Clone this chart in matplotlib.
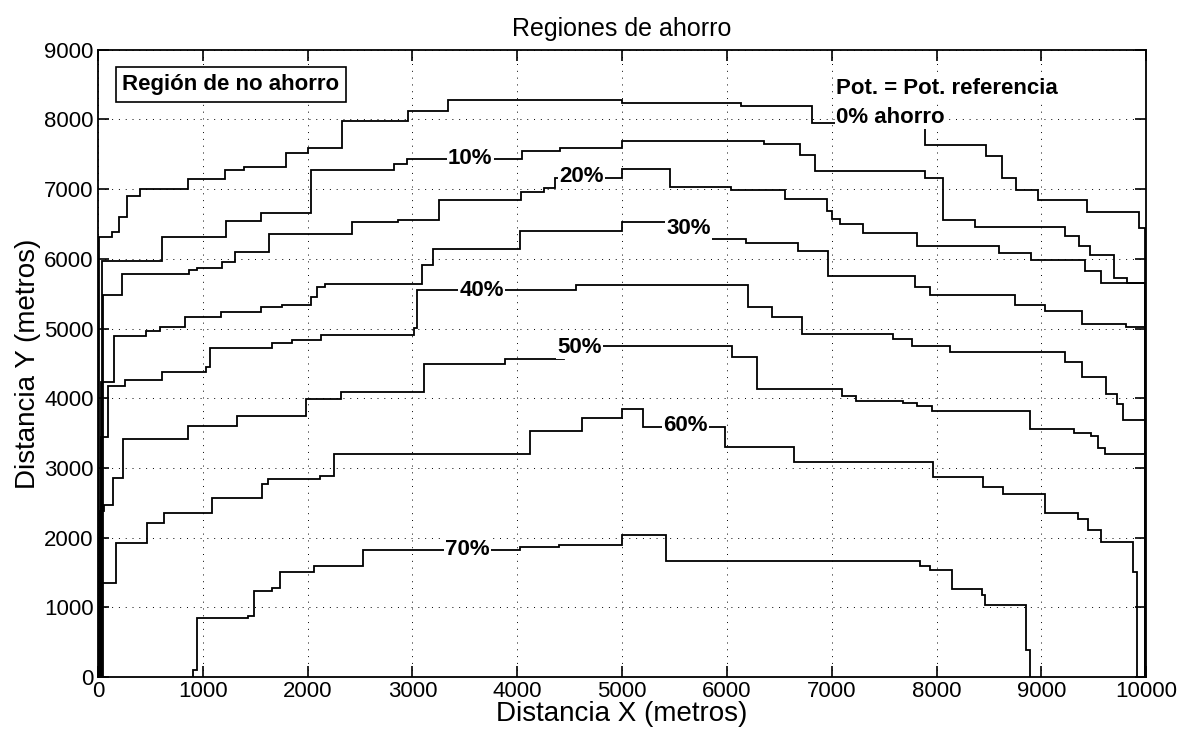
import numpy as np
from matplotlib import pyplot as plt
from matplotlib import rc

rc('font', family='Liberation Sans')

# step boundaries of the saving regions (x edges in m, y level in m)
x0 = [15, 135, 198, 277, 403, 858, 1210, 1396, 1790, 2000, 2330, 2959, 3335,
      5000, 6135, 6810, 7890, 8470, 8620, 8760, 8970, 9435, 9935, 9990]
y0 = [6310, 6380, 6595, 6905, 7000, 7143, 7280, 7316, 7519, 7591, 7976, 8125,
      8280, 8230, 8195, 7952, 7640, 7480, 7160, 6990, 6840, 6670, 6440]

x10 = [40, 616, 1220, 1560, 2030, 2827, 2953, 4048, 4412, 5000, 6357, 6695,
       6841, 7889, 8063, 8368, 9226, 9355, 9468, 9694, 9820, 9985]
y10 = [5976, 6310, 6550, 6660, 7281, 7360, 7430, 7543, 7591, 7688, 7654, 7490,
       7262, 7167, 6560, 6460, 6325, 6182, 6062, 5730, 5650]

x20 = [45, 226, 868, 946, 1186, 1311, 1632, 2425, 2858, 3252, 4032, 4252, 4360,
       5000, 5460, 6040, 6555, 6952, 7000, 7079, 7302, 7815, 8600, 8903, 9419,
       9565, 9985]
y20 = [5476, 5790, 5846, 5875, 5962, 6105, 6359, 6522, 6560, 6850, 6966, 7024,
       7159, 7288, 7038, 6990, 6860, 6690, 6571, 6500, 6371, 6190, 6080, 5981,
       5823, 5656]

x30 = [30, 151, 463, 589, 826, 1174, 1553, 1758, 2030, 2090, 2169, 3090, 3200,
       4026, 5003, 5600, 6180, 6675, 6968, 7794, 7937, 8746, 9030, 9391, 9803,
       9985]
y30 = [4230, 4899, 4971, 5019, 5163, 5244, 5316, 5345, 5452, 5596, 5640, 5909,
       6135, 6399, 6534, 6284, 6221, 6110, 5751, 5592, 5477, 5343, 5250, 5067,
       5029]

x40 = [25, 95, 263, 611, 1035, 1066, 1657, 1852, 2129, 3016, 3047, 4563, 6203,
       6428, 6714, 7587, 7768, 8127, 9227, 9391, 9612, 9720, 9776, 9985]
y40 = [3440, 4183, 4269, 4375, 4445, 4727, 4799, 4837, 4909, 5005, 5560, 5630,
       5308, 5173, 4926, 4849, 4753, 4667, 4514, 4308, 4058, 3913, 3683]

x50 = [20, 57, 142, 237, 864, 1323, 1987, 2320, 3111, 3881, 4450, 6051, 6289,
       7095, 7229, 7683, 7810, 7952, 8889, 9309, 9474, 9539, 9605, 9985]
y50 = [2380, 2476, 2861, 3413, 3596, 3750, 3995, 4085, 4493, 4563, 4755, 4596,
       4140, 4034, 3966, 3928, 3890, 3818, 3554, 3505, 3457, 3288, 3200]

x60 = [26, 168, 468, 627, 1085, 1566, 1623, 2114, 2256, 4119, 4617, 4997, 5203,
       5984, 6640, 7968, 8444, 8635, 9032, 9349, 9444, 9571, 9873, 9915]
y60 = [1346, 1923, 2212, 2356, 2572, 2764, 2837, 2885, 3195, 3524, 3716, 3846,
       3590, 3308, 3080, 2874, 2730, 2634, 2357, 2275, 2107, 1940, 1510]

x70 = [905, 950, 1427, 1491, 1661, 1734, 2060, 2525, 4023, 4400, 4997, 5415,
       7841, 7937, 8143, 8429, 8460, 8857, 8889]
y70 = [100, 842, 875, 1240, 1274, 1514, 1587, 1830, 1865, 1899, 2040, 1660,
       1600, 1542, 1269, 1173, 1029, 383]

# curve labels: text, x, y
lab_txt = ['10%', '20%', '30%', '40%', '50%', '60%', '70%']
lab_x = [3340, 4400, 5420, 3450, 4385, 5390, 3315]
lab_y = [7440, 7180, 6440, 5550, 4735, 3614, 1830]

fig = plt.figure(figsize=(11.94, 7.32), dpi=100)
ax = fig.add_axes([0.082, 0.075, 0.878, 0.857])

for xs, ys in [(x0, y0), (x10, y10), (x20, y20), (x30, y30), (x40, y40),
               (x50, y50), (x60, y60), (x70, y70)]:
    ax.stairs(ys, xs, baseline=0, color='k', lw=1.3)

box = dict(facecolor='white', edgecolor='none', pad=1)
for t, x, y in zip(lab_txt, lab_x, lab_y):
    ax.text(x, y, t, fontsize=16, fontweight='bold', ha='left', va='center',
            bbox=box, zorder=5)

ax.text(7040, 8440, 'Pot. = Pot. referencia', fontsize=16, fontweight='bold',
        ha='left', va='center', bbox=box, zorder=5)
ax.text(7040, 8030, '0% ahorro', fontsize=16, fontweight='bold',
        ha='left', va='center', bbox=box, zorder=5)
ax.text(1270, 8500, 'Región de no ahorro', fontsize=16, fontweight='bold',
        ha='center', va='center', zorder=5,
        bbox=dict(facecolor='white', edgecolor='k', lw=1.2, pad=5))

ax.set_xlim(0, 10000)
ax.set_ylim(0, 9000)
ax.set_xticks(np.arange(0, 10001, 1000))
ax.set_yticks(np.arange(0, 9001, 1000))
ax.grid(True, color='k', linestyle=(0, (1, 6)), lw=0.7)
ax.tick_params(direction='in', top=True, right=True, length=8, width=1.2,
               labelsize=16, pad=3)
for s in ax.spines.values():
    s.set_linewidth(1.3)

ax.set_xlabel('Distancia X (metros)', fontsize=20, labelpad=-1)
ax.set_ylabel('Distancia Y (metros)', fontsize=20, labelpad=2)
ax.set_title('Regiones de ahorro', fontsize=18, pad=10)

fig.savefig('out.png')
